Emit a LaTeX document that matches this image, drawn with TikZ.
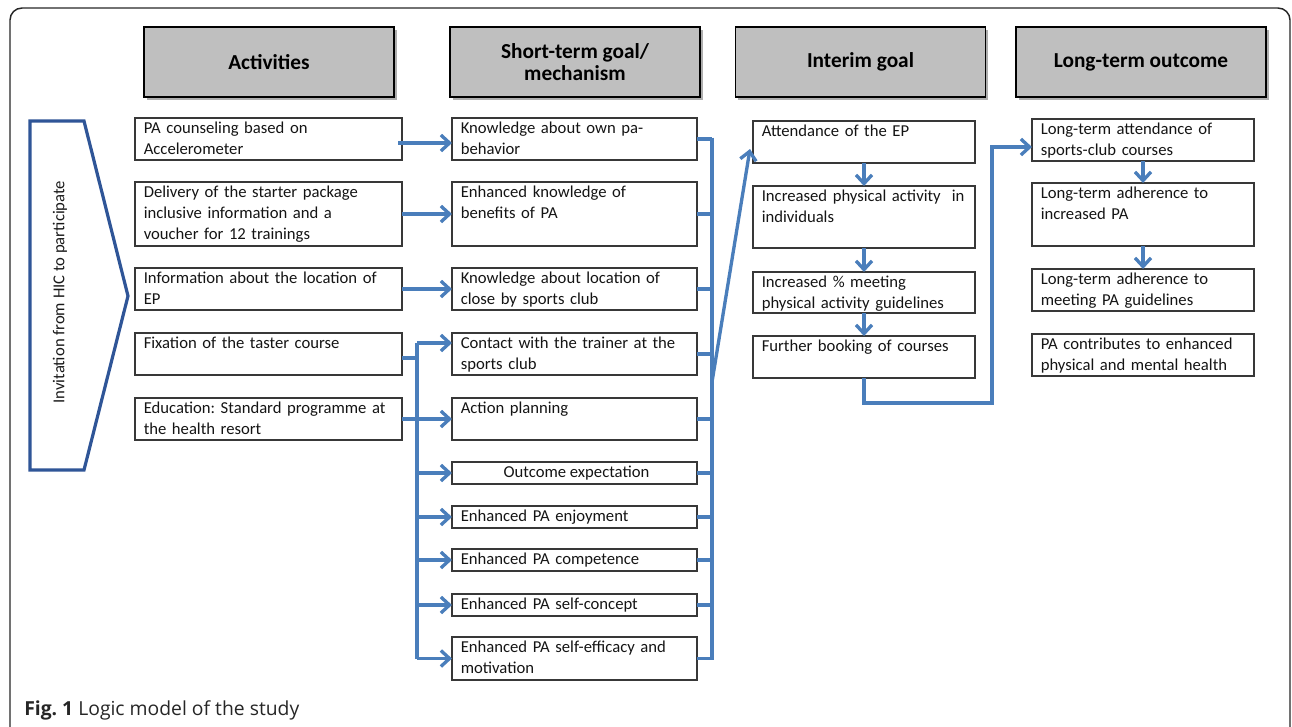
\documentclass[tikz,border=0pt]{standalone}
\usepackage{fontspec}
\setmainfont{Carlito}
\newfontfamily\capfont{Open Sans}
\usetikzlibrary{arrows.meta,calc,shadows}
\frenchspacing
\definecolor{arrblue}{HTML}{4A7EBB}
\definecolor{chevblue}{HTML}{2F5597}
\definecolor{hdrgray}{HTML}{BFBFBF}
\definecolor{boxline}{HTML}{383838}
\tikzset{
 box/.style={draw=boxline, line width=1.2pt, anchor=north west, inner sep=0pt, outer sep=0pt},
 boxtext/.style={anchor=north west, inner sep=0pt, align=left, text=black!92, font=\fontsize{12.5}{15.75}\selectfont},
 hdr/.style={draw=black, line width=1.4pt, fill=hdrgray, minimum width=187.5pt, minimum height=52.5pt, align=center, inner sep=0pt,
   font=\bfseries\fontsize{16}{17}\selectfont,
   drop shadow={shadow xshift=2pt, shadow yshift=-2pt, opacity=0.45, fill=black!70}},
 conn/.style={draw=arrblue, line width=2.5pt},
 arr/.style={conn, -{Straight Barb[length=6.5pt,width=12pt]}},
 chev/.style={draw=chevblue, line width=2.4pt, line join=miter},
}
\newcommand\mybox[6]{%
 \pgfmathsetmacro\mybw{(#4-#2)*0.75}%
 \pgfmathsetmacro\mybh{(#5-#3)*0.75}%
 \pgfmathsetmacro\mytw{(#4-#2-16)*0.75}%
 \node[box, minimum width=\mybw pt, minimum height=\mybh pt] (#1) at (#2,#3) {};
 \node[boxtext, text width=\mytw pt] (#1-t) at ($(#1.north west)+(8.5,3.5)$) {#6};
}
\begin{document}
\begin{tikzpicture}[x=0.75pt,y=-0.75pt]
\useasboundingbox (0,0) rectangle (1292,726);
% outer frame
\draw[line width=1.1pt, draw=black!85, rounded corners=9pt] (10,730) -- (10,8) -- (1290,8) -- (1290,730);

% headers
\node[hdr] (h1) at (269,62) {Activities};
\node[hdr] (h2) at (575,62) {Short-term goal/\\mechanism};
\node[hdr] (h3) at (860.5,62) {Interim goal};
\node[hdr] (h4) at (1141,62) {Long-term outcome};

% chevron
\draw[chev] (30,121) -- (84,121) -- (128,296) -- (84,470) -- (30,470) -- cycle;
\node[rotate=90, font=\fontsize{12.5}{15}\selectfont, text=black!90] (inv) at (60,292) {Invitation from HIC to participate};

% column 1
\mybox{c1a}{135}{118}{402}{160}{PA counseling based on\\Accelerometer}
\mybox{c1b}{135}{182}{402}{246}{Delivery of the starter package\\inclusive information and a\\voucher for 12 trainings}
\mybox{c1c}{135}{268}{402}{310}{Information about the location of\\EP}
\mybox{c1d}{135}{333}{402}{375}{Fixation of the taster course}
\mybox{c1e}{135}{398}{402}{440}{Education: Standard programme at\\the health resort}

% column 2
\mybox{c2a}{452}{118}{697}{160}{Knowledge about own pa-\\behavior}
\mybox{c2b}{452}{182}{697}{246}{Enhanced knowledge of\\benefits of PA}
\mybox{c2c}{452}{268}{697}{310}{Knowledge about location of\\close by sports club}
\mybox{c2d}{452}{333}{697}{375}{Contact with the trainer at the\\sports club}
\mybox{c2e}{452}{398}{697}{440}{Action planning}
\node[box, minimum width=183.75pt, minimum height=16.5pt] (c2f) at (452,462) {};
\node[inner sep=0pt, font=\fontsize{12.5}{15.75}\selectfont, text=black!92] (c2f-t) at ($(c2f.center)+(2,0)$) {Outcome expectation};
\mybox{c2g}{452}{506}{697}{528}{Enhanced PA enjoyment}
\mybox{c2h}{452}{549}{697}{571}{Enhanced PA competence}
\mybox{c2i}{452}{594}{697}{616}{Enhanced PA self-concept}
\mybox{c2j}{452}{637}{697}{680}{Enhanced PA self-efficacy and\\motivation}

% column 3
\mybox{c3a}{753}{121}{975}{163}{Attendance of the EP}
\mybox{c3b}{753}{186}{975}{248}{Increased physical activity\ \ in\\individuals}
\mybox{c3c}{753}{272}{975}{313}{Increased \% meeting\\physical activity guidelines}
\mybox{c3d}{753}{336}{975}{378}{Further booking of courses}

% column 4
\mybox{c4a}{1032}{119}{1254}{161}{Long-term attendance of\\sports-club courses}
\mybox{c4b}{1032}{183}{1254}{246}{Long-term adherence to\\increased PA}
\mybox{c4c}{1032}{269}{1254}{311}{Long-term adherence to\\meeting PA guidelines}
\mybox{c4d}{1032}{334}{1254}{376}{PA contributes to enhanced\\physical and mental health}

% connectors col1 -> col2
\coordinate (busL) at (417,0);
\coordinate (busR) at (712,0);
\draw[arr] ($(c1a.east)+(-4,4)$) -- ($(c2a.west)+(0,4)$);
\draw[arr] (c1b.east) -- (c2b.west);
\draw[arr] (c1c.east) -- (c2c.west);
\draw[conn] ($(c1d.east)+(0,4)$) -- ($(busL |- c1d.east)+(0,4)$);
\draw[conn] ($(busL |- c2d.west)+(0,-11)$) -- (busL |- c2j.west);
\draw[arr] ($(busL |- c2d.west)+(0,-11)$) -- ($(c2d.west)+(0,-11)$);
\draw[arr] (c1e.east) -- (c2e.west);
\foreach \n in {f,g,h,i,j}{
  \draw[arr] (busL |- c2\n.west) -- (c2\n.west);
}
% col2 -> right bus
\foreach \n in {a,b,c,d,e,f,g,h,i,j}{
  \draw[conn] (c2\n.east) -- (busR |- c2\n.east);
}
\draw[conn] ($(busR |- c2a.east)+(0,-1.5)$) -- ($(busR |- c2j.east)+(0,1.5)$);
\draw[arr] ($(busR |- c2d.south)+(0,7)$) -- ($(c3a.west)+(-3,7)$);

% col3 chain
\draw[arr] (c3a.south) -- (c3b.north);
\draw[arr] (c3b.south) -- (c3c.north);
\draw[arr] (c3c.south) -- (c3d.north);
\draw[arr] (c3d.south) -- ++(0,25) -| ($(c4a.west)+(-40,7)$) -- ($(c4a.west)+(0,7)$);

% col4 chain
\draw[arr] (c4a.south) -- (c4b.north);
\draw[arr] (c4b.south) -- (c4c.north);

% caption
\node[anchor=base west, inner sep=0pt, font=\capfont\fontsize{14.5}{16}\selectfont, text=black!85] (cap) at (24,715) {\textbf{Fig. 1} Logic model of the study};
\end{tikzpicture}
\end{document}
